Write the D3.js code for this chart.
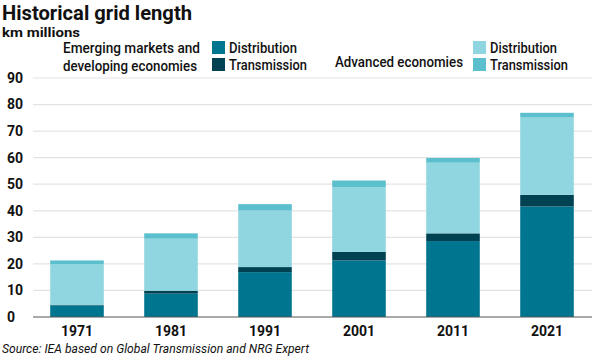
<!DOCTYPE html>
<html><head><meta charset="utf-8">
<script src="https://cdn.jsdelivr.net/npm/d3@7"></script>
<style>
body{margin:0;background:#fff;}
svg{display:block;}
text{font-family:Roboto,"Noto Sans",sans-serif;fill:#111;}
</style></head>
<body>
<script>
const years = ["1971","1981","1991","2001","2011","2021"];
const emdeDistribution = [4.3, 8.8, 16.9, 21.3, 28.6, 41.6];
const emdeTransmission = [0.2, 1.1, 1.9, 3.2, 2.9, 4.4];
const advDistribution = [15.4, 19.6, 21.3, 24.3, 26.6, 29.1];
const advTransmission = [1.4, 2.0, 2.4, 2.6, 1.8, 1.8];
const yTicks = [0,10,20,30,40,50,60,70,80,90];
const seriesNames = ["EMDE Distribution","EMDE Transmission","Advanced Distribution","Advanced Transmission"];
const colors = ["#00758f","#004152","#90d6e0","#5bbfcd"];

const W=600,H=360;
const svg=d3.select("body").append("svg").attr("width",W).attr("height",H);

function txt(g,x,y,s,size,w,opts={}){
  const t=g.append("text").attr("x",x).attr("y",y).attr("font-size",size).text(s);
  if(w) t.attr("textLength",w).attr("lengthAdjust","spacingAndGlyphs");
  if(opts.weight) t.attr("font-weight",opts.weight);
  if(opts.italic) t.attr("font-style","italic");
  return t;
}

const table = years.map((yr,i)=>({year:yr,
  "EMDE Distribution":emdeDistribution[i],
  "EMDE Transmission":emdeTransmission[i],
  "Advanced Distribution":advDistribution[i],
  "Advanced Transmission":advTransmission[i]}));
const stacked = d3.stack().keys(seriesNames)(table);

const x = d3.scaleBand().domain(years).range([30,594]).paddingInner(0.43).paddingOuter(0.215);
const y = d3.scaleLinear().domain([0,90]).range([317,78]);

// gridlines
svg.append("g").selectAll("line").data(yTicks.filter(d=>d>0)).join("line")
  .attr("x1",33).attr("x2",592).attr("y1",d=>y(d)).attr("y2",d=>y(d))
  .attr("stroke","#e3e3e3").attr("stroke-width",1.2);

// y tick labels
svg.append("g").selectAll("text").data(yTicks).join("text")
  .attr("x",7).attr("y",d=>y(d)).attr("dy","0.35em")
  .attr("font-size",14).attr("font-weight","bold").text(d=>d);

// bars
svg.append("g").selectAll("g").data(stacked).join("g")
  .attr("fill",(d,i)=>colors[i])
  .selectAll("rect").data(d=>d).join("rect")
  .attr("x",d=>x(d.data.year)).attr("width",x.bandwidth())
  .attr("y",d=>y(d[1])).attr("height",d=>y(d[0])-y(d[1]));

// baseline
svg.append("line").attr("x1",33).attr("x2",592).attr("y1",y(0)).attr("y2",y(0))
  .attr("stroke","#555").attr("stroke-width",1.2);

// x labels
const xAxis = svg.append("g").attr("transform",`translate(0,${y(0)})`)
  .call(d3.axisBottom(x).tickSize(0).tickPadding(9));
xAxis.select(".domain").remove();
xAxis.selectAll("text").attr("font-size",14).attr("font-weight","bold")
  .style("font-family","Roboto,sans-serif").attr("fill","#111");

// titles
txt(svg,2,20,"Historical grid length",20,190,{weight:"bold"});
txt(svg,2,37,"km millions",13.5,78,{weight:"bold"});

// legend
const lg = svg.append("g");
const lw = 500;
txt(lg,63,53,"Emerging markets and",14,137,{weight:lw});
txt(lg,63,71,"developing economies",14,134,{weight:lw});
lg.append("rect").attr("x",212).attr("y",41).attr("width",13).attr("height",13).attr("fill",colors[0]);
lg.append("rect").attr("x",212).attr("y",58).attr("width",13).attr("height",13).attr("fill",colors[1]);
txt(lg,229,53,"Distribution",14,68,{weight:lw});
txt(lg,229,70,"Transmission",14,78,{weight:lw});
txt(lg,335,67,"Advanced economies",14,128,{weight:lw});
lg.append("rect").attr("x",473).attr("y",41).attr("width",13).attr("height",13).attr("fill",colors[2]);
lg.append("rect").attr("x",473).attr("y",58).attr("width",13).attr("height",13).attr("fill",colors[3]);
txt(lg,490,53,"Distribution",14,67,{weight:lw});
txt(lg,490,70,"Transmission",14,78,{weight:lw});

// source
txt(svg,2,353,"Source: IEA based on Global Transmission and NRG Expert",13,307,{italic:true});
</script>
</body></html>
